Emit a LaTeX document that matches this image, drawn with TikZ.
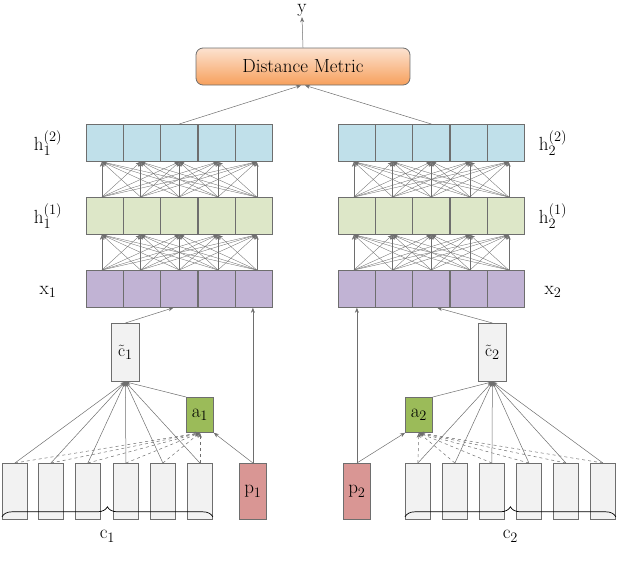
\documentclass[tikz,border=0pt]{standalone}
\usepackage{tikz}
\usetikzlibrary{arrows.meta,decorations.pathreplacing}
\definecolor{lc}{HTML}{6E6E6E}
\definecolor{hb}{HTML}{C0E0EA}
\definecolor{hg}{HTML}{DDE7C8}
\definecolor{hp}{HTML}{C1B3D4}
\definecolor{ag}{HTML}{9BBB59}
\definecolor{pr}{HTML}{D99694}
\definecolor{cg}{HTML}{F2F2F2}
\definecolor{ot}{HTML}{FCE2D0}
\definecolor{ob}{HTML}{F7A05C}
\begin{document}
\begin{tikzpicture}[x=1pt,y=-1pt,
  cell/.style={draw=lc,line width=0.8pt,minimum width=37pt,minimum height=37pt,inner sep=0,anchor=north west},
  box/.style={draw=lc,line width=0.8pt,inner sep=0,anchor=north west,font=\fontsize{19}{21}\selectfont},
  con/.style={draw=lc,line width=0.5pt,-{Stealth[length=5pt,width=4pt]}},
  lbl/.style={font=\fontsize{19}{21}\selectfont}]
\useasboundingbox (0,0) rectangle (618,570);
% layers
\foreach \s/\xo in {L/86,R/338}{
  \foreach \i in {1,...,5}{
    \node[cell,fill=hb] (\s a\i) at ({\xo+(\i-1)*37.2},124) {};
    \node[cell,fill=hg] (\s b\i) at ({\xo+(\i-1)*37.2},197) {};
    \node[cell,fill=hp] (\s c\i) at ({\xo+(\i-1)*37.2},270) {};
  }
  \foreach \i in {1,...,5}{\foreach \j in {1,...,5}{
    \draw[con,line width=0.35pt] ([xshift={(\i-3)*1.5pt}]\s c\i.north) -- ([xshift={(\j-3)*1.5pt}]\s b\j.south);
    \draw[con,line width=0.35pt] ([xshift={(\i-3)*1.5pt}]\s b\i.north) -- ([xshift={(\j-3)*1.5pt}]\s a\j.south);
  }}
}
\node[lbl] (lh2) at (48,143) {h$_1^{(2)}$};
\node[lbl] (lh1) at (48,216) {h$_1^{(1)}$};
\node[lbl] (lx) at (48,292) {x$_1$};
\node[lbl] (rh2) at (553,143) {h$_2^{(2)}$};
\node[lbl] (rh1) at (553,216) {h$_2^{(1)}$};
\node[lbl] (rx) at (553,292) {x$_2$};
% distance metric
\node[draw=lc,line width=0.8pt,rounded corners=7pt,top color=ot,bottom color=ob,minimum width=214pt,minimum height=37pt,font=\fontsize{19}{21}\selectfont] (dm) at (303,66.5) {Distance Metric};
\node[lbl,inner sep=1pt] (y) at (302,10) {y};
\draw[con] (dm.north) -- (y.south);
\draw[con] (La3.north) -- ([xshift=-2pt]dm.south);
\draw[con] (Ra3.north) -- ([xshift=2pt]dm.south);
% bottom
\node[box,fill=cg,minimum width=28pt,minimum height=58pt] (ct1) at (111,323) {$\tilde{\mathrm{c}}_1$};
\node[box,fill=cg,minimum width=28pt,minimum height=58pt] (ct2) at (478,323) {$\tilde{\mathrm{c}}_2$};
\node[box,fill=ag,minimum width=27pt,minimum height=35pt] (a1) at (186,397) {a$_1$};
\node[box,fill=ag,minimum width=27pt,minimum height=35pt] (a2) at (405,397) {a$_2$};
\node[box,fill=pr,minimum width=27pt,minimum height=56pt] (p1) at (239,463) {p$_1$};
\node[box,fill=pr,minimum width=27pt,minimum height=56pt] (p2) at (343,463) {p$_2$};
\foreach \i/\xx in {1/2,2/38,3/75,4/113,5/150,6/187}{
  \node[box,fill=cg,minimum width=25pt,minimum height=56pt] (l\i) at (\xx,463) {};
  \draw[con] (l\i.north) -- (ct1.south);
  \draw[con,dashed] (l\i.north) -- (a1.south);
}
\foreach \i/\xx in {1/405,2/442,3/479,4/516,5/553,6/590}{
  \node[box,fill=cg,minimum width=25pt,minimum height=56pt] (r\i) at (\xx,463) {};
  \draw[con] (r\i.north) -- (ct2.south);
  \draw[con,dashed] (r\i.north) -- (a2.south);
}
\draw[con] (a1.north west) -- (ct1.south);
\draw[con] (a2.north east) -- (ct2.south);
\draw[con] (p1.north) -- (a1.south east);
\draw[con] (p2.north) -- (a2.south west);
\draw[con] (p1.north) -- (p1.north |- Lc5.south);
\draw[con] (p2.north) -- (p2.north |- Rc1.south);
\draw[con] (ct1.north) -- ([xshift=-6pt]Lc3.south);
\draw[con] (ct2.north) -- ([xshift=6pt]Rc3.south);
\draw[decorate,decoration={brace,amplitude=10pt},line width=0.7pt] ([yshift=3pt]l1.south west) -- ([yshift=3pt]l6.south east) node[midway,below=10pt,lbl] (c1) {c$_1$};
\draw[decorate,decoration={brace,amplitude=10pt},line width=0.7pt] ([yshift=3pt]r1.south west) -- ([yshift=3pt]r6.south east) node[midway,below=10pt,lbl] (c2) {c$_2$};
\end{tikzpicture}
\end{document}
